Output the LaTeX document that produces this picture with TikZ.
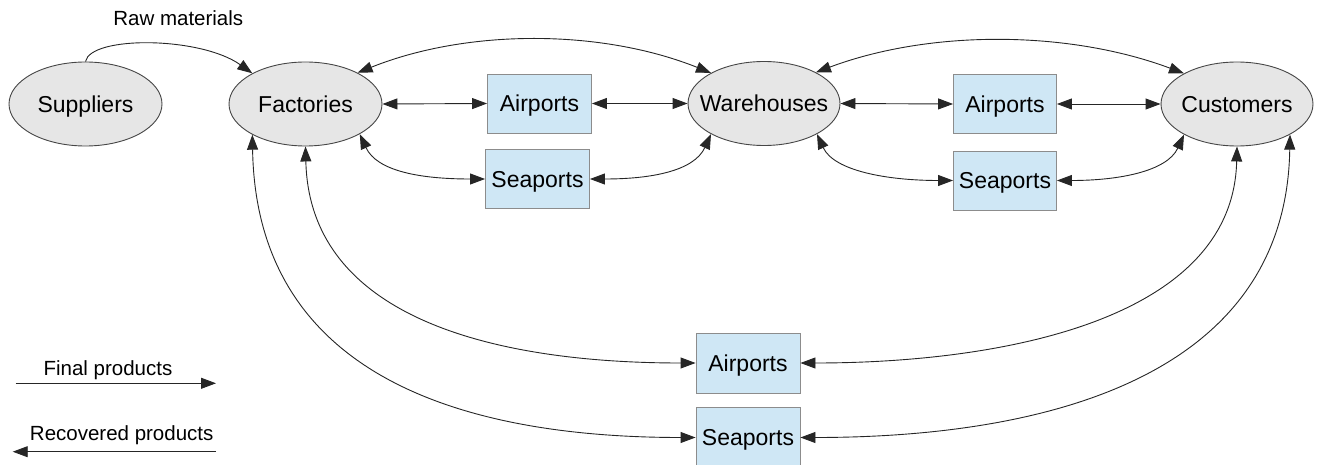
\documentclass[tikz,border=0pt]{standalone}
\usepackage{fontspec}
\setmainfont{Liberation Sans}
\usetikzlibrary{shapes.geometric,arrows.meta}
\definecolor{ellfill}{RGB}{230,230,230}
\definecolor{ellline}{RGB}{70,70,70}
\definecolor{boxfill}{RGB}{207,231,245}
\definecolor{boxline}{RGB}{140,140,140}
\newcommand\zw[1]{\makebox[0pt]{#1}}
\tikzset{
  place/.style={ellipse, draw=ellline, fill=ellfill, line width=0.9pt, inner sep=0pt,
    minimum width=153pt, minimum height=84pt, font=\fontsize{23}{27}\selectfont,
    text height=16.5pt, text depth=0pt},
  port/.style={rectangle, draw=boxline, fill=boxfill, line width=0.9pt, inner sep=0pt,
    minimum width=104pt, minimum height=59pt, font=\fontsize{23}{27}\selectfont,
    text height=16.5pt, text depth=0pt},
  lbl/.style={font=\fontsize{20.5}{24}\selectfont, inner sep=0pt, anchor=base},
  conn/.style={draw=black!85, line width=0.9pt},
  tip/.tip={Triangle[length=15pt,width=11pt]},
  uni/.style={conn, -tip},
  bi/.style={conn, tip-tip}
}
\begin{document}
\begin{tikzpicture}[x=1pt,y=-1pt]
\useasboundingbox (0,0) rectangle (1317,465);
\clip (0,0) rectangle (1317,465);
% main nodes
\node[place] (sup) at (85.5,104) {\zw{Suppliers}};
\node[place] (fac) at (305.5,104) {\zw{Factories}};
\node[place, minimum width=152pt] (wh) at (764,103.5) {\zw{Warehouses}};
\node[place, minimum width=152pt] (cus) at (1237,104) {\zw{Customers}};
% ports
\node[port] (a1) at (539.5,103.5) {Airports};
\node[port] (s1) at (537.5,179) {Seaports};
\node[port, minimum width=103pt] (a2) at (1005,104) {Airports};
\node[port, minimum width=103pt] (s2) at (1005,180.5) {Seaports};
\node[port, minimum height=60pt] (a3) at (748,363) {Airports};
\node[port, minimum height=60pt] (s3) at (748,437.5) {Seaports};
% raw materials
\draw[uni] (sup.north) .. controls +(5,-26) and +(-52,-37) .. (fac.150);
\node[lbl] (raw) at (178.3,25.7) {Raw materials};
% top arcs
\draw[bi] (fac.31) .. controls +(110,-44) and +(-110,-44) .. (wh.150);
\draw[bi] (wh.31) .. controls +(115,-43) and +(-115,-43) .. (cus.150);
% straight links
\draw[bi] (fac.east) -- (a1.west);
\draw[bi] (a1.east) -- (wh.west);
\draw[bi] (wh.east) -- (a2.west);
\draw[bi] (a2.east) -- (cus.west);
% seaport links
\draw[bi] (fac.-29) .. controls +(17,37) and +(-65,0) .. (s1.west);
\draw[bi] (s1.east) .. controls +(61,0) and +(-17,37) .. (wh.210);
\draw[bi] (wh.-30) .. controls +(17,37) and +(-65,0) .. (s2.west);
\draw[bi] (s2.east) .. controls +(61,0) and +(-17,37) .. (cus.210);
% bottom links
\draw[bi] (fac.south) .. controls +(4,174) and +(-196,0) .. (a3.west);
\draw[bi] (fac.210) .. controls +(4,245) and +(-226,0) .. (s3.west);
\draw[bi] (cus.south) .. controls +(-4,174) and +(200,0) .. (a3.east);
\draw[bi] (cus.-30) .. controls +(-4,245) and +(240,0) .. (s3.east);
% legend
\coordinate (f1) at (15.7,383.3);
\coordinate (f2) at (216,383.3);
\coordinate (r1) at (216,451.7);
\coordinate (r2) at (12.7,451.7);
\draw[uni] (f1) -- (f2);
\draw[uni] (r1) -- (r2);
\node[lbl] (fp) at (108,375) {Final products};
\node[lbl] (rp) at (121.7,440) {Recovered products};
\end{tikzpicture}
\end{document}
